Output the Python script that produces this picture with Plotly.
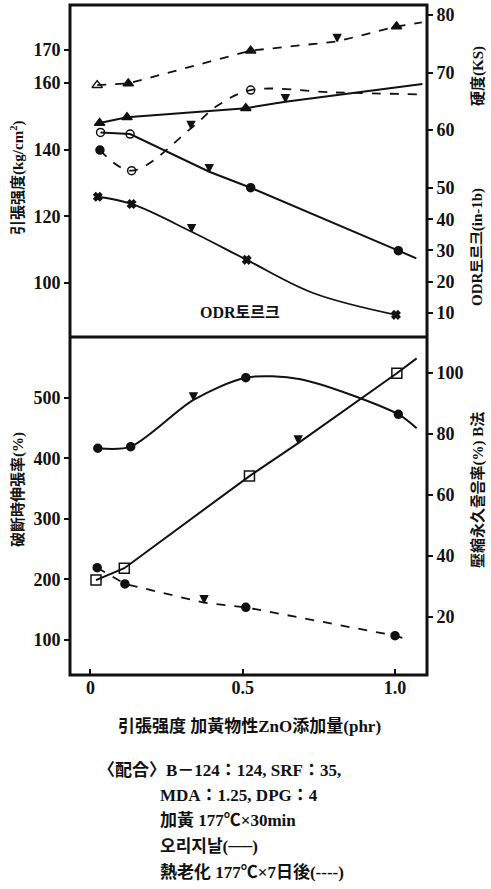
import plotly.graph_objects as go

# ---------------- data ----------------
# top panel
hard_orig_x = [0.03, 0.12, 0.51, 0.64, 1.09]
hard_orig_y = [61.2, 62.2, 63.8, 64.9, 68.0]
hard_orig_sym = ["triangle-up", "triangle-up", "triangle-up", "arrow-down", "circle"]
hard_orig_show = [1, 1, 1, 1, 0]

hard_aged_x = [0.022, 0.124, 0.526, 0.81, 1.005, 1.088]
hard_aged_y = [67.8, 68.1, 73.8, 75.4, 78.0, 78.7]
hard_aged_sym = ["triangle-up-open", "triangle-up", "triangle-up", "arrow-down", "triangle-up", "circle"]
hard_aged_show = [1, 1, 1, 1, 1, 0]

ts_orig_x = [0.033, 0.13, 0.39, 0.526, 1.011, 1.07]
ts_orig_y = [145.2, 144.7, 133.4, 128.6, 109.7, 107.4]
ts_orig_sym = ["circle-open", "circle-open", "arrow-down", "circle", "circle", "circle"]
ts_orig_show = [1, 1, 1, 1, 1, 0]

ts_aged_x = [0.031, 0.135, 0.33, 0.415, 0.526, 0.8, 1.088]
ts_aged_y = [139.9, 133.7, 146.4, 153.1, 157.9, 157.2, 156.6]
ts_aged_sym = ["circle", "circle-open", "arrow-down", "circle", "circle-open", "circle", "circle"]
ts_aged_show = [1, 1, 1, 0, 1, 0, 0]

odr_x = [0.024, 0.135, 0.332, 0.513, 0.731, 1.003]
odr_y = [47.2, 44.9, 36.0, 27.0, 16.4, 9.4]
odr_sym = ["x", "x", "arrow-down", "x", "x", "x"]
odr_show = [1, 1, 1, 1, 0, 1]

# bottom panel
el_orig_x = [0.024, 0.132, 0.338, 0.51, 0.69, 1.011, 1.071]
el_orig_y = [416.9, 419.5, 496.7, 533.6, 531.0, 473.0, 450.0]
el_orig_sym = ["circle", "circle", "arrow-down", "circle", "circle", "circle", "circle"]
el_orig_show = [1, 1, 1, 1, 0, 1, 0]

el_aged_x = [0.022, 0.113, 0.373, 0.51, 1.0, 1.04]
el_aged_y = [219.5, 192.6, 161.6, 154.0, 107.1, 101.0]
el_aged_sym = ["circle", "circle", "arrow-down", "circle", "circle", "circle"]
el_aged_show = [1, 1, 1, 1, 1, 0]

cs_x = [0.018, 0.111, 0.522, 0.682, 1.006, 1.071]
cs_y = [32.1, 36.0, 66.2, 77.0, 99.9, 104.8]
cs_sym = ["square-open", "square-open", "square-open", "arrow-down", "square-open", "square"]
cs_show = [1, 1, 1, 1, 1, 0]

x_ticks = [0, 0.5, 1.0]
x_ticktext = ["0", "0.5", "1.0"]
ts_ticks = [100, 120, 140, 160, 170]
hard_ticks = [60, 70, 80]
odr_ticks = [10, 20, 30, 40, 50]
el_ticks = [100, 200, 300, 400, 500]
cs_ticks = [20, 40, 60, 80, 100]

note_lines = [
    "〈配合〉B－124：124, SRF：35,",
    "MDA：1.25, DPG：4",
    "加黃 177℃×30min",
    "오리지날(──)",
    "熱老化 177℃×7日後(----)",
]

# ---------------- figure ----------------
SERIF = "Liberation Serif, Noto Sans CJK KR, serif"
BLACK = "#111111"

fig = go.Figure()


def add_series(x, y, sym, show, xa, ya, dash="solid", shape="linear", size=8, width=2, smoothing=1.0):
    sizes = [size if s else 0 for s in show]
    sizes = [7 if (sy == "arrow-down" and sz) else sz for sy, sz in zip(sym, sizes)]
    fig.add_trace(go.Scatter(
        x=x, y=y, xaxis=xa, yaxis=ya, mode="lines+markers",
        line=dict(color=BLACK, width=width, dash=dash, shape=shape, smoothing=smoothing),
        marker=dict(symbol=sym, size=sizes, color=BLACK, opacity=1,
                    line=dict(color=BLACK, width=1.5)),
        showlegend=False, hoverinfo="x+y",
    ))


# top panel: x2 with y (tensile), y2 (hardness), y3 (ODR)
add_series(hard_orig_x, hard_orig_y, hard_orig_sym, hard_orig_show, "x2", "y2", "solid", size=9)
add_series(hard_aged_x, hard_aged_y, hard_aged_sym, hard_aged_show, "x2", "y2", "dash", size=9, width=1.8)
add_series(ts_orig_x, ts_orig_y, ts_orig_sym, ts_orig_show, "x2", "y", "solid", size=8)
add_series(ts_aged_x, ts_aged_y, ts_aged_sym, ts_aged_show, "x2", "y", "dash", shape="spline", size=8, width=1.8)
add_series(odr_x, odr_y, odr_sym, odr_show, "x2", "y3", "solid", shape="spline", size=7, width=1.8)

# bottom panel: x with y4 (elongation), y5 (compression set)
add_series(el_orig_x, el_orig_y, el_orig_sym, el_orig_show, "x", "y4", "solid", shape="spline", size=8, smoothing=0.8)
add_series(el_aged_x, el_aged_y, el_aged_sym, el_aged_show, "x", "y4", "dash", size=8, width=1.8)
add_series(cs_x, cs_y, cs_sym, cs_show, "x", "y5", "solid", size=10)

SPLIT = 0.5045
tickfont = dict(family=SERIF, size=18, color=BLACK, weight="bold")

common_y = dict(showgrid=False, zeroline=False, showline=False, ticks="outside",
                ticklen=5, tickwidth=2, tickcolor=BLACK, tickfont=tickfont, automargin=False)

fig.update_layout(
    width=491, height=889,
    margin=dict(l=70, r=64, t=5, b=214),
    paper_bgcolor="white", plot_bgcolor="white",
    xaxis=dict(domain=[0, 1], anchor="y4", range=[-0.0673, 1.105],
               tickvals=x_ticks, ticktext=x_ticktext, ticks="inside", ticklen=6,
               tickwidth=2, tickcolor=BLACK, showgrid=False, zeroline=False,
               showline=False, tickfont=tickfont, automargin=False),
    xaxis2=dict(domain=[0, 1], anchor="y", range=[-0.0673, 1.105], matches="x",
                showticklabels=False, ticks="", showgrid=False, zeroline=False, showline=False),
    yaxis=dict(domain=[SPLIT, 1], anchor="x2", range=[83.78, 183.45],
               tickvals=ts_ticks, **common_y),
    yaxis2=dict(domain=[SPLIT, 1], anchor="x2", overlaying="y", side="right",
                range=[24.0, 81.74], tickvals=hard_ticks, **common_y),
    yaxis3=dict(domain=[SPLIT, 1], anchor="x2", overlaying="y", side="right",
                range=[2.32, 108.56], tickvals=odr_ticks, **common_y),
    yaxis4=dict(domain=[0, SPLIT], anchor="x", range=[42.1, 600.8],
                tickvals=el_ticks, **common_y),
    yaxis5=dict(domain=[0, SPLIT], anchor="x", overlaying="y4", side="right",
                range=[0.98, 111.8], tickvals=cs_ticks, **common_y),
)

# frame
fig.add_shape(type="rect", xref="paper", yref="paper", x0=0, x1=1, y0=0, y1=1,
              line=dict(color=BLACK, width=3))
fig.add_shape(type="line", xref="paper", yref="paper", x0=0, x1=1, y0=SPLIT, y1=SPLIT,
              line=dict(color=BLACK, width=3))


def px_to_paper(px, py):
    return (px - 70) / 357.0, (675 - py) / 670.0


def add_text(text, px, py, size=16, angle=0, xanchor="center"):
    xp, yp = px_to_paper(px, py)
    fig.add_annotation(text=text, x=xp, y=yp, xref="paper", yref="paper",
                       showarrow=False, textangle=angle, xanchor=xanchor, yanchor="middle",
                       font=dict(family=SERIF, size=size, color=BLACK, weight="bold"))


# axis titles
add_text("引張强度(kg/cm<sup>2</sup>)", 18, 178, size=15, angle=-90)
add_text("破斷時伸張率(%)", 18, 490, size=15, angle=-90)
add_text("硬度(KS)", 478, 76, size=15, angle=-90)
add_text("ODR토르크(in-1b)", 478, 247, size=15, angle=-90)
add_text("壓縮永久줄음率(%) B法", 478, 490, size=15, angle=-90)

# in-plot label
fig.add_annotation(text="ODR토르크", x=0.49, y=10, xref="x2", yref="y3",
                   showarrow=False, font=dict(family=SERIF, size=16, color=BLACK, weight="bold"))

# x title
add_text("引張强度 加黃物性ZnO添加量(phr)", 249, 727, size=17)

# notes
add_text(note_lines[0], 96, 770, size=17, xanchor="left")
for i, line in enumerate(note_lines[1:]):
    add_text(line, 158, 795 + 25.5 * i, size=17, xanchor="left")

fig.write_html("out.html", config={"displayModeBar": False},
               post_script="document.body.style.margin='0px';")
